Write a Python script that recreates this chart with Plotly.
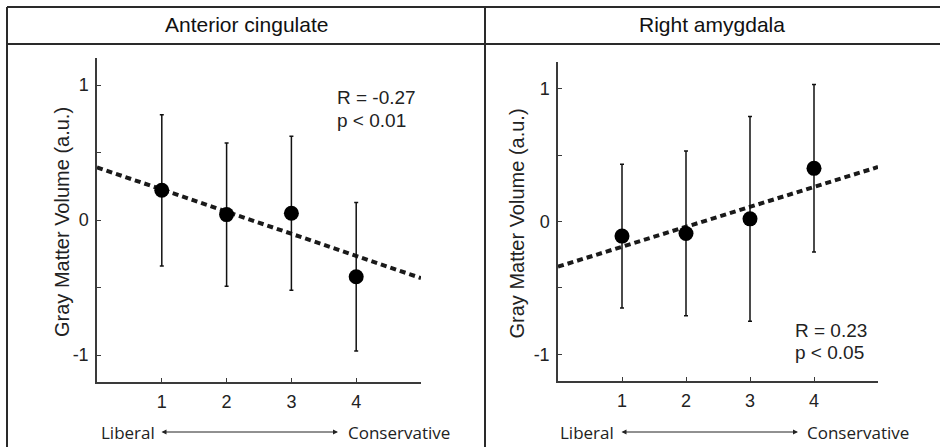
import plotly.graph_objects as go

# Political orientation scale (1 = liberal ... 4 = conservative)
ratings = [1, 2, 3, 4]

# Anterior cingulate: mean gray matter volume and error per rating
acc_mean = [0.22, 0.04, 0.05, -0.42]
acc_err = [0.56, 0.53, 0.57, 0.55]
acc_fit_x = [0, 5]
acc_fit_y = [0.39, -0.43]
acc_stats = ["R = -0.27", "p < 0.01"]

# Right amygdala
amy_mean = [-0.11, -0.09, 0.02, 0.40]
amy_err = [0.54, 0.62, 0.77, 0.63]
amy_fit_x = [0, 5]
amy_fit_y = [-0.34, 0.41]
amy_stats = ["R = 0.23", "p < 0.05"]

panel_titles = ["Anterior cingulate", "Right amygdala"]
y_ticks = [-1, -0.5, 0, 0.5, 1]
y_ticktext = ["-1", "", "0", "", "1"]
y_title = "Gray Matter Volume (a.u.)"

W, H = 940, 447
FONT = "Liberation Sans, Arial, sans-serif"
AXIS_COLOR = "#3a3a3a"


def px_x(p):
    return p / W


def px_y(p):
    return 1 - p / H


fig = go.Figure()

for i, (mean, err, fx, fy) in enumerate([
    (acc_mean, acc_err, acc_fit_x, acc_fit_y),
    (amy_mean, amy_err, amy_fit_x, amy_fit_y),
]):
    xa = "x" if i == 0 else "x2"
    ya = "y" if i == 0 else "y2"
    fig.add_trace(go.Scatter(
        x=fx, y=fy, mode="lines", xaxis=xa, yaxis=ya,
        line=dict(color="#1a1a1a", width=4, dash="6px,4px"),
        hoverinfo="skip", showlegend=False,
    ))
    fig.add_trace(go.Scatter(
        x=ratings, y=mean, mode="markers", xaxis=xa, yaxis=ya,
        marker=dict(color="black", size=15),
        error_y=dict(type="data", array=err, color="#111111",
                     thickness=1.5, width=2),
        showlegend=False,
    ))

# Plot area placement (pixels)
panels = [
    dict(x0=97, x1=421, y0=58, y1=382),
    dict(x0=558, x1=878, y0=62, y1=381),
]

axis_common = dict(
    showline=True, linecolor=AXIS_COLOR, linewidth=1.5,
    ticks="inside", ticklen=4, tickcolor=AXIS_COLOR, tickwidth=1,
    showgrid=False, zeroline=False,
    tickfont=dict(family=FONT, size=18, color="#222"),
)

layout_axes = {}
for i, p in enumerate(panels):
    sx = "" if i == 0 else "2"
    layout_axes["xaxis" + sx] = dict(
        axis_common,
        domain=[px_x(p["x0"]), px_x(p["x1"])],
        anchor="y" + sx, range=[0, 5],
        tickvals=ratings, ticktext=[str(r) for r in ratings],
        ticklabelstandoff=3,
    )
    layout_axes["yaxis" + sx] = dict(
        axis_common,
        domain=[px_y(p["y1"]), px_y(p["y0"])],
        anchor="x" + sx, range=[-1.2, 1.2],
        tickvals=y_ticks, ticktext=y_ticktext,
        ticklabelstandoff=3,
    )

annotations = []
# Column headers
annotations.append(dict(text=panel_titles[0], x=px_x(246), y=px_y(25), xref="paper", yref="paper",
                        showarrow=False, xanchor="center", yanchor="middle",
                        font=dict(family=FONT, size=21, color="#111")))
annotations.append(dict(text=panel_titles[1], x=px_x(712), y=px_y(25), xref="paper", yref="paper",
                        showarrow=False, xanchor="center", yanchor="middle",
                        font=dict(family=FONT, size=21, color="#111")))

# Y axis titles
for cx, p in zip([62, 516], panels):
    annotations.append(dict(text=y_title, x=px_x(cx), y=px_y((p["y0"] + p["y1"]) / 2 + 2),
                            xref="paper", yref="paper", showarrow=False, textangle=-90,
                            xanchor="center", yanchor="middle",
                            font=dict(family=FONT, size=20, color="#222")))

# Correlation statistics
for stats, lx, cy in [(acc_stats, 335, 98), (amy_stats, 793, 330)]:
    for k, s in enumerate(stats):
        annotations.append(dict(text=s, x=px_x(lx), y=px_y(cy + 22 * k), xref="paper", yref="paper",
                                showarrow=False, xanchor="left", yanchor="middle",
                                font=dict(family=FONT, size=19, color="#222")))

# Liberal <-> Conservative scale labels
for lib_x, arr0, arr1, con_x in [(99, 160, 338, 346), (558, 620, 798, 805)]:
    annotations.append(dict(text="Liberal", x=px_x(lib_x), y=px_y(432), xref="paper", yref="paper",
                            showarrow=False, xanchor="left", yanchor="middle",
                            font=dict(family="Open Sans, sans-serif", size=17, color="#222")))
    annotations.append(dict(text="Conservative", x=px_x(con_x), y=px_y(432), xref="paper", yref="paper",
                            showarrow=False, xanchor="left", yanchor="middle",
                            font=dict(family="Open Sans, sans-serif", size=17, color="#222")))
    annotations.append(dict(text="", x=px_x(arr1), y=px_y(432), xref="paper", yref="paper",
                            ax=-(arr1 - arr0), ay=0, showarrow=True,
                            arrowhead=2, startarrowhead=2, arrowside="end+start",
                            arrowsize=1, arrowwidth=1, arrowcolor="#222"))

# Table frame
line_style = dict(color="#2a2a2a", width=2)
shapes = [
    dict(type="line", xref="paper", yref="paper", x0=px_x(7), x1=1, y0=px_y(7), y1=px_y(7), line=line_style),
    dict(type="line", xref="paper", yref="paper", x0=px_x(7), x1=1, y0=px_y(44), y1=px_y(44), line=line_style),
    dict(type="line", xref="paper", yref="paper", x0=px_x(7), x1=px_x(7), y0=px_y(7), y1=0, line=line_style),
    dict(type="line", xref="paper", yref="paper", x0=px_x(485), x1=px_x(485), y0=px_y(7), y1=0, line=line_style),
]

fig.update_layout(
    width=W, height=H,
    margin=dict(l=0, r=0, t=0, b=0),
    paper_bgcolor="white", plot_bgcolor="white",
    showlegend=False,
    annotations=annotations,
    shapes=shapes,
    **layout_axes,
)

fig.write_html("out.html")
